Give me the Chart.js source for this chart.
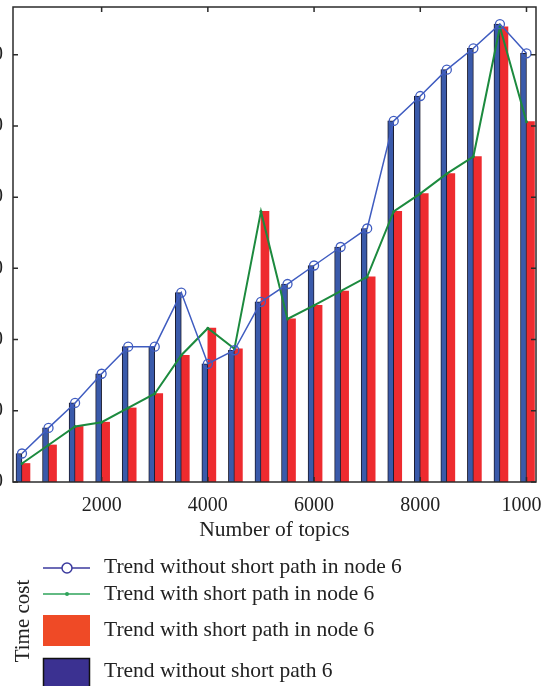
<!DOCTYPE html>
<html>
<head>
<meta charset="utf-8">
<script src="https://cdn.jsdelivr.net/npm/chart.js@4.4.1/dist/chart.umd.min.js"></script>
<style>
  html, body { margin: 0; padding: 0; background: #fff; }
  #page { position: relative; width: 550px; height: 686px; overflow: hidden; background: #fff; }
  #plot { position: absolute; left: 0; top: 0; width: 542px; height: 545px; overflow: hidden; }
  #plot canvas { position: absolute; left: -40px; top: 0; }
  #legend { position: absolute; left: 0; top: 540px; }
  #legend text { font-family: "Liberation Serif", "DejaVu Serif", serif; fill: #222; }
</style>
</head>
<body>
<div id="page">
  <div id="plot"><canvas id="chart" width="620" height="545"></canvas></div>
  <svg id="legend" width="550" height="146">
    <text transform="translate(29,81) rotate(-90)" text-anchor="middle" font-size="21">Time cost</text>

    <line x1="43" y1="28" x2="90" y2="28" stroke="#3b3a9e" stroke-width="1.5"/>
    <circle cx="67" cy="28" r="5" fill="#fff" stroke="#3b3a9e" stroke-width="1.5"/>
    <text x="104" y="33" font-size="21.5">Trend without short path in node 6</text>

    <line x1="43" y1="54" x2="90" y2="54" stroke="#2ea35a" stroke-width="1.5"/>
    <circle cx="67" cy="54" r="2" fill="#2ea35a"/>
    <text x="104" y="60" font-size="21.5">Trend with short path in node 6</text>

    <rect x="43" y="75" width="47" height="31" fill="#ef4a26"/>
    <text x="104" y="96" font-size="21.5">Trend with short path in node 6</text>

    <rect x="43.5" y="118.5" width="46" height="40" fill="#3b3191" stroke="#111" stroke-width="1.5"/>
    <text x="104" y="137" font-size="21.5">Trend without short path 6</text>
  </svg>
</div>
<script>
// number of topics (one group of bars per value)
const topics = [500, 1000, 1500, 2000, 2500, 3000, 3500, 4000, 4500, 5000,
                5500, 6000, 6500, 7000, 7500, 8000, 8500, 9000, 9500, 10000];
// time cost without the short path
const withoutShort = [4.0, 7.6, 11.1, 15.2, 19.0, 19.0, 26.6, 16.6, 18.5, 25.3,
                      27.8, 30.4, 33.0, 35.6, 50.7, 54.2, 57.9, 60.9, 64.3, 60.2];
// time cost with the short path
const withShort = [2.6, 5.2, 7.8, 8.4, 10.4, 12.4, 17.8, 21.6, 18.7, 38.0,
                   22.9, 24.8, 26.8, 28.8, 38.0, 40.5, 43.3, 45.7, 63.9, 50.6];
const xTicks = [2000, 4000, 6000, 8000, 10000];
const yTicks = [0, 10, 20, 30, 40, 50, 60];

const pts = vals => topics.map((t, i) => ({ x: t, y: vals[i] }));
const serif = '"Liberation Serif", "DejaVu Serif", serif';

// box round the plot with the ticks pointing inwards
const frame = {
  id: 'frame',
  afterDraw(chart) {
    const { ctx, chartArea: a, scales: { x, y } } = chart;
    ctx.save();
    ctx.strokeStyle = '#2b2b2b';
    ctx.lineWidth = 1.5;
    ctx.strokeRect(a.left, a.top, a.right - a.left, a.bottom - a.top);
    ctx.beginPath();
    x.ticks.forEach(t => {
      const px = x.getPixelForValue(t.value);
      ctx.moveTo(px, a.bottom); ctx.lineTo(px, a.bottom - 5);
      ctx.moveTo(px, a.top); ctx.lineTo(px, a.top + 5);
    });
    y.ticks.forEach(t => {
      const py = y.getPixelForValue(t.value);
      ctx.moveTo(a.left, py); ctx.lineTo(a.left + 5, py);
      ctx.moveTo(a.right, py); ctx.lineTo(a.right - 5, py);
    });
    ctx.stroke();
    ctx.restore();
  }
};

const ctx = document.getElementById('chart').getContext('2d');
const myChart = new Chart(ctx, {
  data: {
    datasets: [
      {
        type: 'line',
        label: 'Trend without short path in node 6',
        data: pts(withoutShort),
        borderColor: '#3f5cc0',
        borderWidth: 1.5,
        pointStyle: 'circle',
        pointRadius: 4.5,
        pointBorderWidth: 1.3,
        pointBorderColor: '#3f5cc0',
        pointBackgroundColor: 'rgba(255,255,255,0)',
        order: 0
      },
      {
        type: 'line',
        label: 'Trend with short path in node 6',
        data: pts(withShort),
        borderColor: '#1c8a3e',
        borderWidth: 2,
        pointRadius: 1.5,
        pointBorderWidth: 0,
        pointBackgroundColor: '#1c8a3e',
        order: 0
      },
      {
        type: 'bar',
        label: 'Trend without short path 6',
        data: pts(withoutShort),
        backgroundColor: '#3a5aaa',
        borderColor: '#1b1b2e',
        borderWidth: 1,
        barThickness: 6,
        order: 1
      },
      {
        type: 'bar',
        label: 'Trend with short path in node 6',
        data: pts(withShort),
        backgroundColor: '#ee2b2f',
        borderWidth: 0,
        barThickness: 8,
        order: 1
      }
    ]
  },
  options: {
    responsive: false,
    animation: false,
    devicePixelRatio: 1,
    layout: { padding: { top: 7, right: 44, left: 0, bottom: 0 } },
    plugins: { legend: { display: false }, tooltip: { enabled: false } },
    scales: {
      x: {
        type: 'linear',
        min: 331,
        max: 10179,
        offset: false,
        grid: { display: false },
        border: { display: false },
        afterBuildTicks: s => { s.ticks = xTicks.map(v => ({ value: v })); },
        afterFit: s => { s.height = 63; s.paddingLeft = 0; s.paddingRight = 0; },
        ticks: {
          autoSkip: false,
          maxRotation: 0,
          padding: 4,
          color: '#222',
          font: { family: serif, size: 20 },
          callback: v => String(v)
        },
        title: {
          display: true,
          text: 'Number of topics',
          color: '#222',
          font: { family: serif, size: 21.5 },
          padding: { top: 0, bottom: 2 }
        }
      },
      y: {
        min: 0,
        max: 66.7,
        grid: { display: false },
        border: { display: false },
        afterBuildTicks: s => { s.ticks = yTicks.map(v => ({ value: v })); },
        afterFit: s => { s.width = 53; s.paddingTop = 0; s.paddingBottom = 0; },
        ticks: {
          padding: 2,
          color: '#222',
          font: { family: serif, size: 20 }
        }
      }
    }
  },
  plugins: [frame]
});
</script>
</body>
</html>
